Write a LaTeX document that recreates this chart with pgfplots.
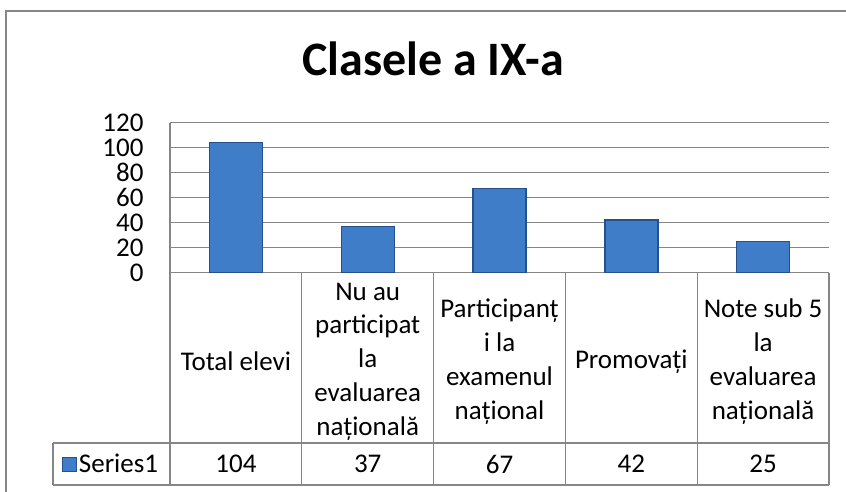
\documentclass[border=0pt]{standalone}
\usepackage{fontspec}
\setmainfont{Carlito}
\usepackage{pgfplots}
\pgfplotsset{compat=1.18}
\usepackage{pgfplotstable}

\definecolor{gridgray}{RGB}{134,134,134}
\definecolor{barmid}{RGB}{64,125,200}
\definecolor{barline}{RGB}{38,80,140}

% Clasele a IX-a
\pgfplotstableread{
x val
0 104
1 37
2 67
3 42
4 25
}\datatable

\begin{document}
\begin{tikzpicture}
\useasboundingbox (0pt,0pt) rectangle (846pt,-492pt);
% chart area frame (only left and top edges are inside the picture)
\draw[gridgray, line width=1.3pt] (6pt,-492pt) -- (6pt,-11pt) -- (846pt,-11pt);
\node[font=\fontsize{48}{57}\selectfont\bfseries, anchor=base, inner sep=0pt]
  at (433pt,-76pt) {Clasele a IX-a};

\begin{axis}[
  at={(170pt,-272.5pt)}, anchor=south west,
  scale only axis, width=659pt, height=150pt,
  xmin=-0.5, xmax=4.5, ymin=0, ymax=120,
  clip=false,
  ytick={0,20,...,120},
  xtick={0,...,4},
  xticklabels={{Total elevi},
               {Nu au\\participat\\la\\evaluarea\\națională},
               {Participanț\\i la\\examenul\\național},
               {Promovați},
               {Note sub 5\\la\\evaluarea\\națională}},
  xticklabel style={align=center, anchor=center, yshift=-89pt,
                    font=\fontsize{27}{33.8}\selectfont},
  yticklabel style={font=\fontsize{27}{32}\selectfont, xshift=-23pt},
  /pgf/number format/assume math mode=true,
  ymajorgrids, grid style={gridgray, line width=1.2pt},
  axis x line*=bottom, axis y line*=left,
  axis line style={gridgray, line width=1.2pt, -},
  tick style={draw=none},
  legend style={at={(-0.164,-1.2767)}, anchor=west, draw=none, fill=none,
                inner sep=0pt, font=\fontsize{27}{33.5}\selectfont},
  legend cell align=left,
]
\addplot[ybar, bar width=53pt, draw=barline, line width=1.4pt, fill=barmid,
  legend image code/.code={
    \draw[fill=barmid, draw=barline, line width=0.8pt]
      (0pt,-7pt) rectangle (14pt,7pt);}]
  table[x=x, y=val] {\datatable};
\addlegendentry{Series1}
% value row of the data table
\addplot[draw=none, mark=none, forget plot, nodes near coords, point meta=explicit,
  every node near coord/.append style={anchor=center,
    font=\fontsize{27}{33.5}\selectfont}]
  table[x=x, y expr=-153.2, meta=val] {\datatable};
\end{axis}

% data table grid
\begin{scope}[gridgray, line width=1.2pt]
\draw (53pt,-443pt) -- (829pt,-443pt);
\draw (53pt,-485pt) -- (829pt,-485pt);
\draw (53pt,-443pt) -- (53pt,-485pt);
\foreach \xx in {170,301.8,433.6,565.4,697.2,829}
  \draw (\xx pt,-272.5pt) -- (\xx pt,-485pt);
\end{scope}
\end{tikzpicture}
\end{document}
